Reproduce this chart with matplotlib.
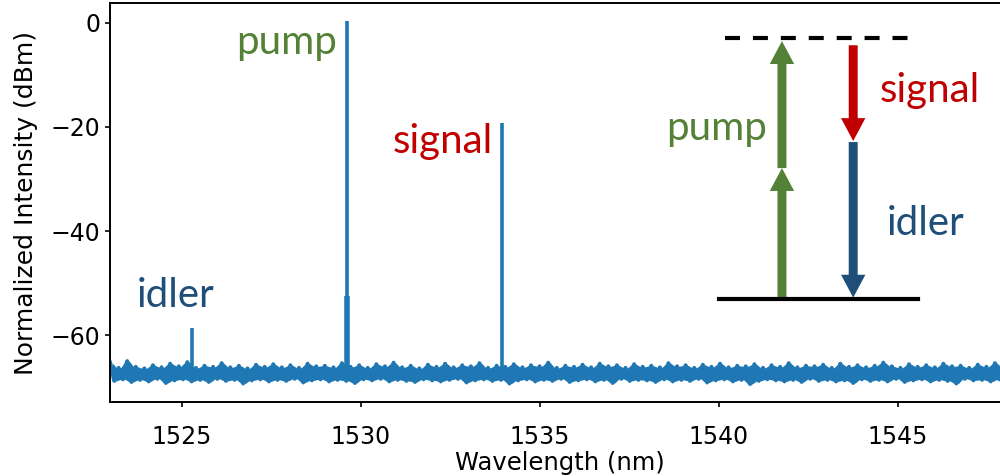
import numpy as np
import matplotlib
matplotlib.use("Agg")
import matplotlib.pyplot as plt

# noise floor of the spectrum (dBm), sampled every 0.12 nm from 1523 nm
noise_db = [
    -65.3, -68.8, -66.3, -68.5, -65.0, -69.0, -66.1, -68.6, -66.4, -68.9,
    -65.8, -68.4, -66.2, -69.2, -65.5, -68.7, -66.0, -68.5, -65.2, -68.9,
    -66.3, -68.6, -65.9, -69.0, -66.1, -68.4, -65.4, -68.8, -66.2, -68.6,
    -65.9, -69.3, -66.4, -68.7, -65.7, -68.5, -66.1, -68.9, -65.6, -68.6,
    -66.2, -68.8, -65.8, -68.4, -66.3, -69.1, -65.5, -68.7, -66.0, -68.5,
    -65.9, -68.9, -66.2, -68.6, -65.4, -68.8, -66.1, -69.2, -65.8, -68.5,
    -66.3, -68.7, -65.6, -68.4, -66.0, -68.9, -65.3, -68.6, -66.2, -68.8,
    -65.9, -69.0, -66.4, -68.5, -65.7, -68.7, -66.1, -68.9, -65.5, -68.6,
    -66.2, -68.4, -65.8, -69.1, -66.0, -68.7, -65.4, -68.5, -66.3, -68.8,
    -65.9, -68.6, -66.1, -69.3, -65.6, -68.7, -66.2, -68.5, -65.8, -68.9,
    -66.0, -68.6, -65.3, -68.8, -66.3, -68.4, -65.9, -69.0, -66.1, -68.7,
    -65.7, -68.5, -66.2, -68.9, -65.5, -68.6, -66.0, -69.2, -65.8, -68.4,
    -66.3, -68.8, -65.6, -68.6, -66.1, -68.7, -65.9, -69.0, -66.2, -68.5,
    -65.4, -68.9, -66.0, -68.6, -65.8, -68.8, -66.3, -68.4, -65.7, -69.1,
    -66.1, -68.7, -65.5, -68.5, -66.2, -68.9, -65.9, -68.6, -66.0, -69.4,
    -65.6, -68.8, -66.3, -68.5, -65.8, -68.7, -66.1, -68.9, -65.4, -68.6,
    -66.2, -69.0, -65.9, -68.4, -66.0, -68.8, -65.7, -68.6, -66.3, -68.9,
    -65.5, -68.7, -66.1, -69.2, -65.8, -68.5, -66.2, -68.8, -65.9, -68.6,
    -65.3, -68.9, -66.0, -68.4, -66.3, -69.0, -65.6, -68.7, -66.1, -68.5,
    -65.8, -68.9, -66.2, -68.6, -65.5, -68.8, -66.0, -69.3, -65.9, -68.4,
    -66.3, -68.7, -65.7, -68.6, -66.1, -68.9, -65.4, -68.5, -66.2, -68.8,
    -65.9, -68.6, -66.0, -69.1, -65.6, -68.7, -66.3, -68.5, -65.8, -68.9,
]
wl_start, wl_step = 1523.0, 0.12

# spectral lines: idler, pump, signal
peak_wl = [1525.28, 1529.61, 1533.95]
peak_db = [-58.7, 0.4, -19.3]
pump_shoulder_db = -52.5

# energy diagram (in data units of the plot)
level_top, level_bottom = -3.0, -53.0
pump_x, sig_x = 1541.77, 1543.76
pump_mid = -27.9
sig_tip = -22.7

green = "#538135"
red = "#C00000"
blue = "#1F4E79"
line_c = "#1f77b4"

fig = plt.figure(figsize=(10, 4.76), dpi=100)
ax = fig.add_axes([0.11, 0.155, 0.90, 0.839])

noise = np.array(noise_db)
wl = wl_start + wl_step * np.arange(len(noise))
mid = (wl[:-1] + wl[1:]) / 2
ax.fill_between(mid, np.minimum(noise[:-1], noise[1:]),
                np.maximum(noise[:-1], noise[1:]), color=line_c, lw=0)
ax.plot(wl, noise, color=line_c, lw=2.9)
ax.vlines(peak_wl, -67, peak_db, color=line_c, lw=2.6)
ax.vlines(peak_wl[1], -67, pump_shoulder_db, color=line_c, lw=4)

ax.set_xlim(1523, 1548.14)
ax.set_ylim(-72.9, 3.85)
ax.set_xticks([1525, 1530, 1535, 1540, 1545])
ax.set_yticks([0, -20, -40, -60])
ax.tick_params(labelsize=17, width=1.2)
ax.tick_params(axis="x", pad=13)
ax.set_xlabel("Wavelength (nm)", fontsize=17.5, labelpad=1)
ax.set_ylabel("Normalized Intensity (dBm)", fontsize=18, labelpad=9)
for s in ax.spines.values():
    s.set_linewidth(1.4)

lab = dict(family="Lato", fontsize=29, ha="center", va="baseline")
ax.text(1527.94, -5.9, "pump", color=green, **lab)
ax.text(1532.31, -25.0, "signal", color=red, **lab)
ax.text(1524.82, -54.6, "idler", color=blue, **lab)
ax.text(1539.93, -22.6, "pump", color=green, **lab)
ax.text(1545.9, -15.2, "signal", color=red, **lab)
ax.text(1545.79, -40.8, "idler", color=blue, **lab)

# energy levels
ax.plot([1540.18, 1545.45], [level_top, level_top], color="black", lw=3,
        linestyle=(0, (3.6, 3.1)))
ax.plot([1540.0, 1545.57], [level_bottom, level_bottom], color="black", lw=3)

arr = dict(width=0.25, head_width=0.68, head_length=4.4,
           length_includes_head=True, lw=0)
ax.arrow(pump_x, level_bottom, 0, pump_mid - level_bottom, color=green, **arr)
ax.arrow(pump_x, pump_mid, 0, level_top - 0.5 - pump_mid, color=green, **arr)
ax.arrow(sig_x, level_top - 1.3, 0, sig_tip - level_top + 1.3, color=red, **arr)
ax.arrow(sig_x, sig_tip - 0.2, 0, level_bottom + 0.4 - sig_tip, color=blue, **arr)

fig.savefig("out.png", dpi=100)
